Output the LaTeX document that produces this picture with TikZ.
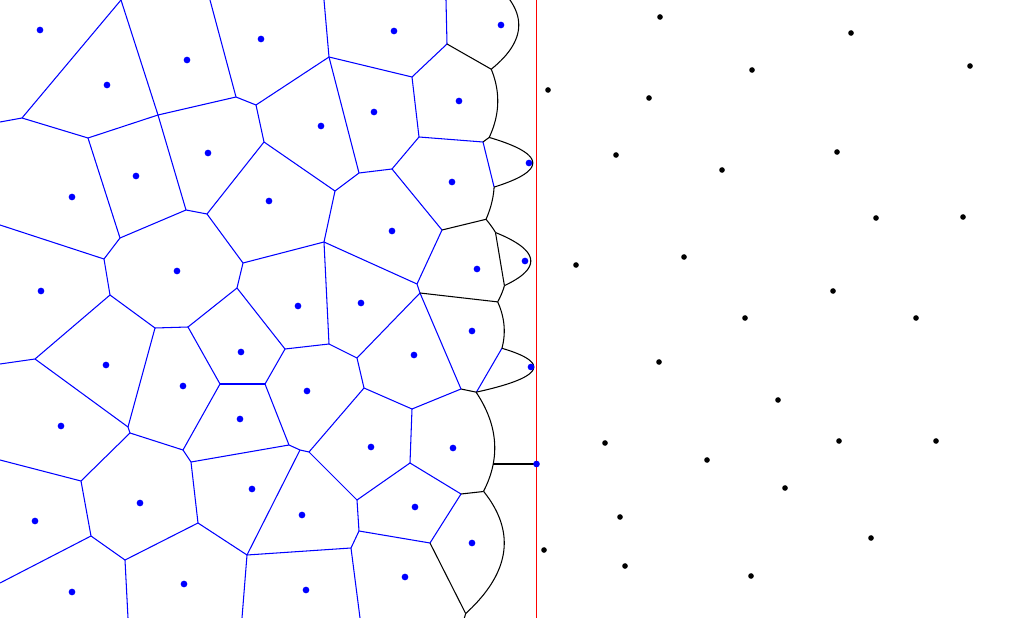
\documentclass[tikz,border=0pt]{standalone}
\usepackage{tikz}

\begin{document}
\begin{tikzpicture}[
    x=0.02cm, y=-0.02cm,
    celledge/.style={blue, line width=0.6pt},
    halfedge/.style={black, line width=0.6pt},
    beach/.style={black, line width=0.6pt},
    sweepline/.style={red, line width=0.6pt},
    bluesite/.style={fill=blue},
    blacksite/.style={fill=black}
  ]
  \useasboundingbox (0,0) rectangle (1028,618);
  \begin{scope}
    \clip (0,0) rectangle (1028,618);

    % border ends
    \coordinate (t1) at (121,0);
    \coordinate (t2) at (210,0);
    \coordinate (t3) at (324,0);
    \coordinate (t4) at (446,0);
    \coordinate (l1) at (0,122);
    \coordinate (l2) at (0,225);
    \coordinate (l3) at (0,364);
    \coordinate (l4) at (0,460);
    \coordinate (l5) at (0,583);
    \coordinate (d1) at (128,618);
    \coordinate (d2) at (242,618);
    \coordinate (d3) at (360,618);

    % voronoi vertices
    \coordinate (v1) at (22,118);
    \coordinate (v2) at (88,138);
    \coordinate (v3) at (158,115);
    \coordinate (v4) at (236,97);
    \coordinate (v5) at (256,105);
    \coordinate (v6) at (329,57);
    \coordinate (v7) at (264,142);
    \coordinate (v8) at (335,191);
    \coordinate (v9) at (447,44);
    \coordinate (v10) at (359,173);
    \coordinate (v11) at (483,142);
    \coordinate (v12) at (412,77);
    \coordinate (v13) at (419,137);
    \coordinate (v15) at (392,169);
    \coordinate (v16) at (442,230);
    \coordinate (v18a) at (417,284);
    \coordinate (v18b) at (420,293);
    \coordinate (v19) at (461,389);
    \coordinate (v21) at (412,409);
    \coordinate (v22) at (410,463);
    \coordinate (v23) at (461,494);
    \coordinate (v25) at (430,543);
    \coordinate (v26) at (120,238);
    \coordinate (v27) at (207,214);
    \coordinate (v28) at (186,210);
    \coordinate (v29) at (104,259);
    \coordinate (v30) at (110,295);
    \coordinate (v31) at (35,359);
    \coordinate (v32) at (155,328);
    \coordinate (v33) at (243,263);
    \coordinate (v34) at (324,242);
    \coordinate (v35) at (237,288);
    \coordinate (v36) at (329,344);
    \coordinate (v37) at (188,327);
    \coordinate (v38) at (285,349);
    \coordinate (v39) at (220,384);
    \coordinate (v40) at (265,384);
    \coordinate (v41) at (357,358);
    \coordinate (v42) at (364,388);
    \coordinate (v43a) at (289,445);
    \coordinate (v43b) at (300,450);
    \coordinate (v43c) at (309,452);
    \coordinate (v44) at (191,462);
    \coordinate (v45) at (247,555);
    \coordinate (v46) at (357,500);
    \coordinate (v47) at (183,450);
    \coordinate (v48a) at (128,427);
    \coordinate (v48b) at (130,433);
    \coordinate (v49) at (198,523);
    \coordinate (v50) at (351,548);
    \coordinate (v51) at (359,531);
    \coordinate (v52) at (81,481);
    \coordinate (v53) at (91,536);
    \coordinate (v54) at (125,560);

    % breakpoints on the beach line
    \coordinate (b1) at (491.2,69.2);
    \coordinate (b2) at (489.2,137.4);
    \coordinate (b3) at (494.1,187.1);
    \coordinate (b4) at (486.0,219.3);
    \coordinate (b5) at (495.5,232.6);
    \coordinate (b6) at (504.4,285.6);
    \coordinate (b7) at (497.7,301.9);
    \coordinate (b8) at (501.9,348.3);
    \coordinate (b9) at (476.4,392.2);
    \coordinate (b10) at (493.2,464);
    \coordinate (b11) at (483.5,491.5);
    \coordinate (b12) at (465.7,613.6);
    \coordinate (hit) at (536.5,464);

    % finished edges
    \foreach \a/\b in {v1/t1, v1/l1, v1/v2, v2/v3, v2/v26, v3/t1, v3/v4, v3/v28,
        v4/t2, v4/v5, v5/v6, v5/v7, v6/t3, v6/v12, v6/v10, v7/v27, v7/v8,
        v8/v10, v8/v34, v10/v15, v9/t4, v9/v12, v12/v13, v13/v11, v13/v15,
        v15/v16, v16/v18a, v18a/v34, v18a/v18b, v18b/v41, v18b/v19, v11/b3,
        v26/v28, v26/v29, v28/v27, v27/v33, v29/l2, v29/v30, v30/v31, v30/v32,
        v31/l3, v31/v48a, v32/v48a, v32/v37, v33/v34, v33/v35, v34/v36,
        v35/v37, v35/v38, v36/v38, v36/v41, v37/v39, v38/v40, v39/v40,
        v39/v47, v40/v43a, v41/v42, v42/v21, v42/v43c, v21/v19, v21/v22,
        v22/v46, v22/v23, v23/v25, v25/v51, v46/v43c, v46/v51, v51/v50,
        v50/v45, v50/d3, v45/v43b, v45/v49, v45/d2, v43a/v43b, v43b/v43c,
        v43a/v44, v44/v47, v44/v49, v47/v48b, v48a/v48b, v48b/v52, v52/l4,
        v52/v53, v53/l5, v53/v54, v54/v49, v54/d1, b8/b9}
      \draw[celledge] (\a) -- (\b);

    % edges still growing
    \foreach \a/\b in {v9/b1, v11/b2, v16/b4, b5/b6, v18b/b7, v19/b9,
        v23/b11, v25/b12, b10/hit}
      \draw[halfedge] (\a) -- (\b);

    % beach line, sweep at x=536.5
    \foreach \fx/\fy/\ya/\yb in {501/25/-2/69.2, 459/101/69.2/137.4,
        529/163/137.4/187.1, 452/182/187.1/219.3, 477/269/219.3/232.6,
        525/261/232.6/285.6, 477/269/285.6/301.9, 472/331/301.9/348.3,
        531/367/348.3/392.2, 453/448/392.2/491.5, 472/543/491.5/613.6,
        405/577/613.6/620}
      \draw[beach] plot[domain=\ya:\yb, samples=60, variable=\t]
        ({(\fx+536.5)/2-(\t-\fy)^2/(2*(536.5-\fx))}, \t);
  \end{scope}

  \draw[sweepline] (536.5,0) -- (536.5,618);

  % processed sites
  \foreach \p in {(40,30), (107,85), (187,60), (261,39), (394,31), (501,25),
      (374,112), (459,101), (321,126), (208,153), (136,176), (72,197),
      (269,201), (452,182), (529,163), (392,231), (477,269), (525,261),
      (177,271), (41,291), (298,306), (361,303), (472,331), (106,365),
      (241,352), (183,386), (307,391), (414,355), (531,367), (61,426),
      (240,419), (371,447), (453,448), (536.5,464), (140,503), (35,521),
      (252,489), (302,515), (415,507), (472,543), (72,592), (184,584),
      (306,590), (405,577)}
    \fill[bluesite] \p circle[radius=1.9pt];

  % sites still to come
  \foreach \p in {(660,17), (851,33), (970,66), (752,70), (548,90), (649,98),
      (616,155), (722,170), (837,152), (876,218), (963,217), (576,265),
      (684,257), (833,291), (745,318), (916,318), (659,362), (778,400),
      (605,443), (707,460), (839,441), (936,441), (785,488), (620,517),
      (544,550), (625,566), (751,576), (871,538)}
    \fill[blacksite] \p circle[radius=1.6pt];
\end{tikzpicture}
\end{document}
